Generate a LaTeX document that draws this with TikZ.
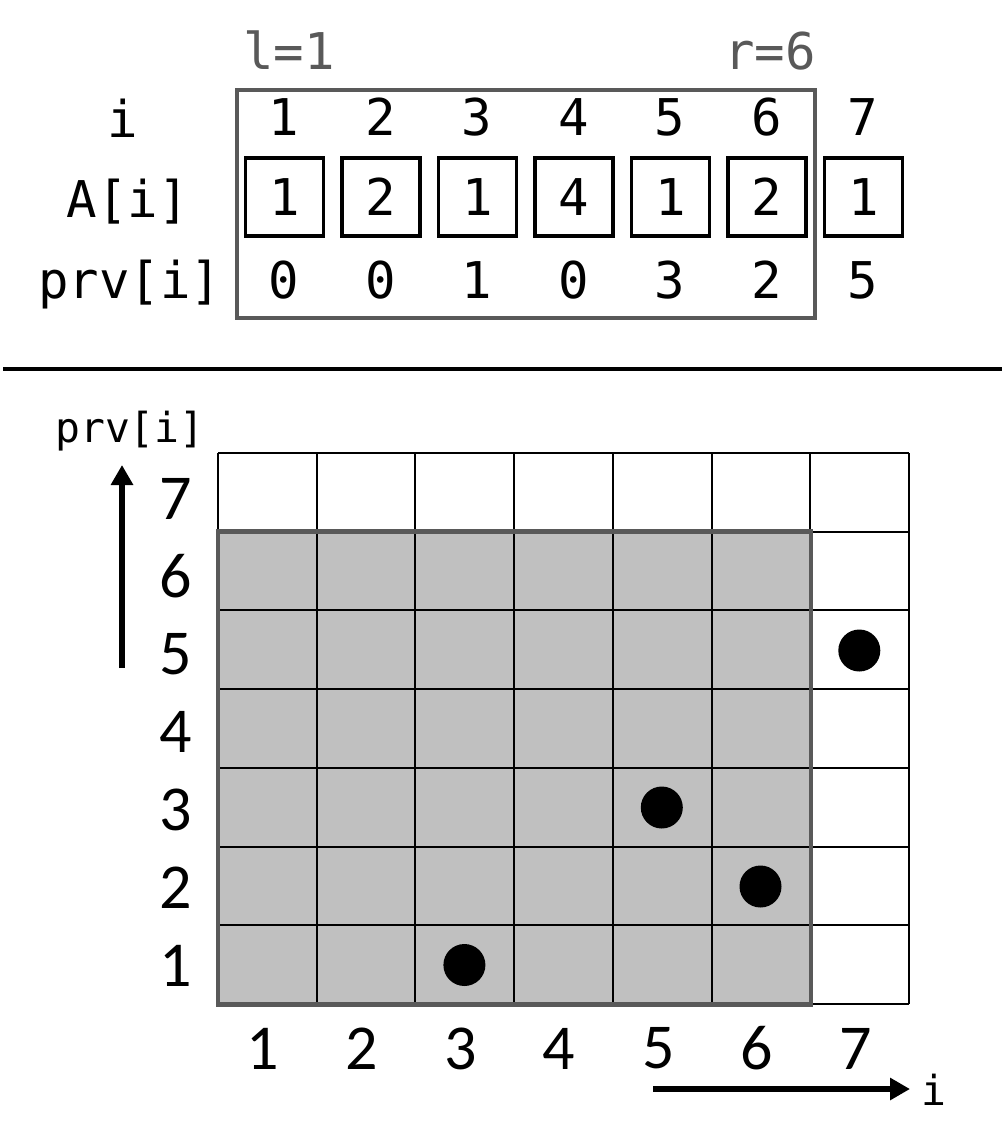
\documentclass[tikz,border=0pt]{standalone}
\usepackage{fontspec}
\setmonofont{DejaVu Sans Mono}
\newfontfamily\gridfont{Carlito}
\usetikzlibrary{positioning,arrows.meta}
\definecolor{rimgray}{HTML}{595959}
\definecolor{cellgray}{HTML}{C0C0C0}

\begin{document}
\begin{tikzpicture}[x=0.75pt,y=0.75pt,
		lbl/.style={font=\ttfamily\fontsize{38}{38}\selectfont,anchor=base},
		smalllbl/.style={font=\ttfamily\fontsize{31}{31}\selectfont,anchor=base},
		arrcell/.style={lbl,anchor=center,draw=black,line width=2.4pt,minimum size=58.5pt},
		axisnum/.style={font=\gridfont\fontsize{48}{48}\selectfont},
		dot/.style={circle,fill=black,minimum size=31.5pt},
		axisarrow/.style={line width=4.8pt,-{Triangle[length=15pt,width=16pt]}}]
		\tikzstyle{every node}+=[inner sep=0pt]
		\useasboundingbox (0,0) rectangle (1002,-1140);
		% top: the array with l and r
		\draw [rimgray,line width=2.6pt] (237,-90) rectangle (815,-318);
		\node [lbl,rimgray] (lVal) at (289,-69) {l=1};
		\node [lbl,rimgray] (rVal) at (770,-69) {r=6};
		\node [lbl] (iLbl) at (123,-137) {i};
		\node [lbl] (aLbl) at (128,-217) {A[i]};
		\node [lbl] (pLbl) at (130,-298) {prv[i]};
		\node [lbl] (i1) at (284,-135) {1};
		\node [lbl] (i2) at (380.5,-135) {2};
		\node [lbl] (i3) at (477,-135) {3};
		\node [lbl] (i4) at (573.5,-135) {4};
		\node [lbl] (i5) at (670,-135) {5};
		\node [lbl] (i6) at (766.5,-135) {6};
		\node [lbl] (i7) at (863,-135) {7};
		\node [arrcell] (a1) at (284.5,-197) {1};
		\node [arrcell] (a2) at (381,-197) {2};
		\node [arrcell] (a3) at (477.5,-197) {1};
		\node [arrcell] (a4) at (574,-197) {4};
		\node [arrcell] (a5) at (670.5,-197) {1};
		\node [arrcell] (a6) at (767,-197) {2};
		\node [arrcell] (a7) at (863.5,-197) {1};
		\node [lbl] (p1) at (284,-298) {0};
		\node [lbl] (p2) at (380.5,-298) {0};
		\node [lbl] (p3) at (477,-298) {1};
		\node [lbl] (p4) at (573.5,-298) {0};
		\node [lbl] (p5) at (670,-298) {3};
		\node [lbl] (p6) at (766.5,-298) {2};
		\node [lbl] (p7) at (863,-298) {5};
		% separator
		\coordinate (sepL) at (3,-369);
		\coordinate (sepR) at (1002,-369);
		\draw [black,line width=3pt] (sepL) -- (sepR);
		% bottom: the grid of (i, prv[i])
		\fill [cellgray] (218,-531.7) rectangle (810.3,-1004);
		\draw [black,line width=1.5pt] (218,-453) -- (218,-1004);
		\draw [black,line width=1.5pt] (316.7,-453) -- (316.7,-1004);
		\draw [black,line width=1.5pt] (415.4,-453) -- (415.4,-1004);
		\draw [black,line width=1.5pt] (514.1,-453) -- (514.1,-1004);
		\draw [black,line width=1.5pt] (612.9,-453) -- (612.9,-1004);
		\draw [black,line width=1.5pt] (711.6,-453) -- (711.6,-1004);
		\draw [black,line width=1.5pt] (810.3,-453) -- (810.3,-1004);
		\draw [black,line width=1.5pt] (909,-453) -- (909,-1004);
		\draw [black,line width=1.5pt] (218,-453) -- (909,-453);
		\draw [black,line width=1.5pt] (218,-531.7) -- (909,-531.7);
		\draw [black,line width=1.5pt] (218,-610.4) -- (909,-610.4);
		\draw [black,line width=1.5pt] (218,-689.1) -- (909,-689.1);
		\draw [black,line width=1.5pt] (218,-767.9) -- (909,-767.9);
		\draw [black,line width=1.5pt] (218,-846.6) -- (909,-846.6);
		\draw [black,line width=1.5pt] (218,-925.3) -- (909,-925.3);
		\draw [black,line width=1.5pt] (218,-1004) -- (909,-1004);
		\draw [rimgray,line width=3.4pt] (218,-531.7) rectangle (811,-1004.5);
		\node [dot] (d3) at (464.4,-965) {};
		\node [dot] (d5) at (661.8,-807.5) {};
		\node [dot] (d6) at (760.5,-886.5) {};
		\node [dot] (d7) at (859.3,-650.5) {};
		\node [axisnum] (y1) at (176,-966) {1};
		\node [axisnum] (y2) at (176,-888.1) {2};
		\node [axisnum] (y3) at (176,-810.2) {3};
		\node [axisnum] (y4) at (176,-732.3) {4};
		\node [axisnum] (y5) at (176,-654.4) {5};
		\node [axisnum] (y6) at (176,-576.5) {6};
		\node [axisnum] (y7) at (176,-498.6) {7};
		\node [axisnum] (x1) at (263,-1048.5) {1};
		\node [axisnum] (x2) at (362,-1048.5) {2};
		\node [axisnum] (x3) at (461,-1048.5) {3};
		\node [axisnum] (x4) at (559,-1048.5) {4};
		\node [axisnum] (x5) at (659,-1048.5) {5};
		\node [axisnum] (x6) at (757,-1048.5) {6};
		\node [axisnum] (x7) at (856,-1048.5) {7};
		% axes
		\node [smalllbl] (yName) at (130,-442) {prv[i]};
		\node [smalllbl] (xName) at (934,-1105) {i};
		\coordinate (upTail) at (122,-668);
		\coordinate (upHead) at (122,-465);
		\draw [axisarrow] (upTail) -- (upHead);
		\coordinate (rightTail) at (653,-1089);
		\coordinate (rightHead) at (910,-1089);
		\draw [axisarrow] (rightTail) -- (rightHead);
	\end{tikzpicture}
\end{document}
